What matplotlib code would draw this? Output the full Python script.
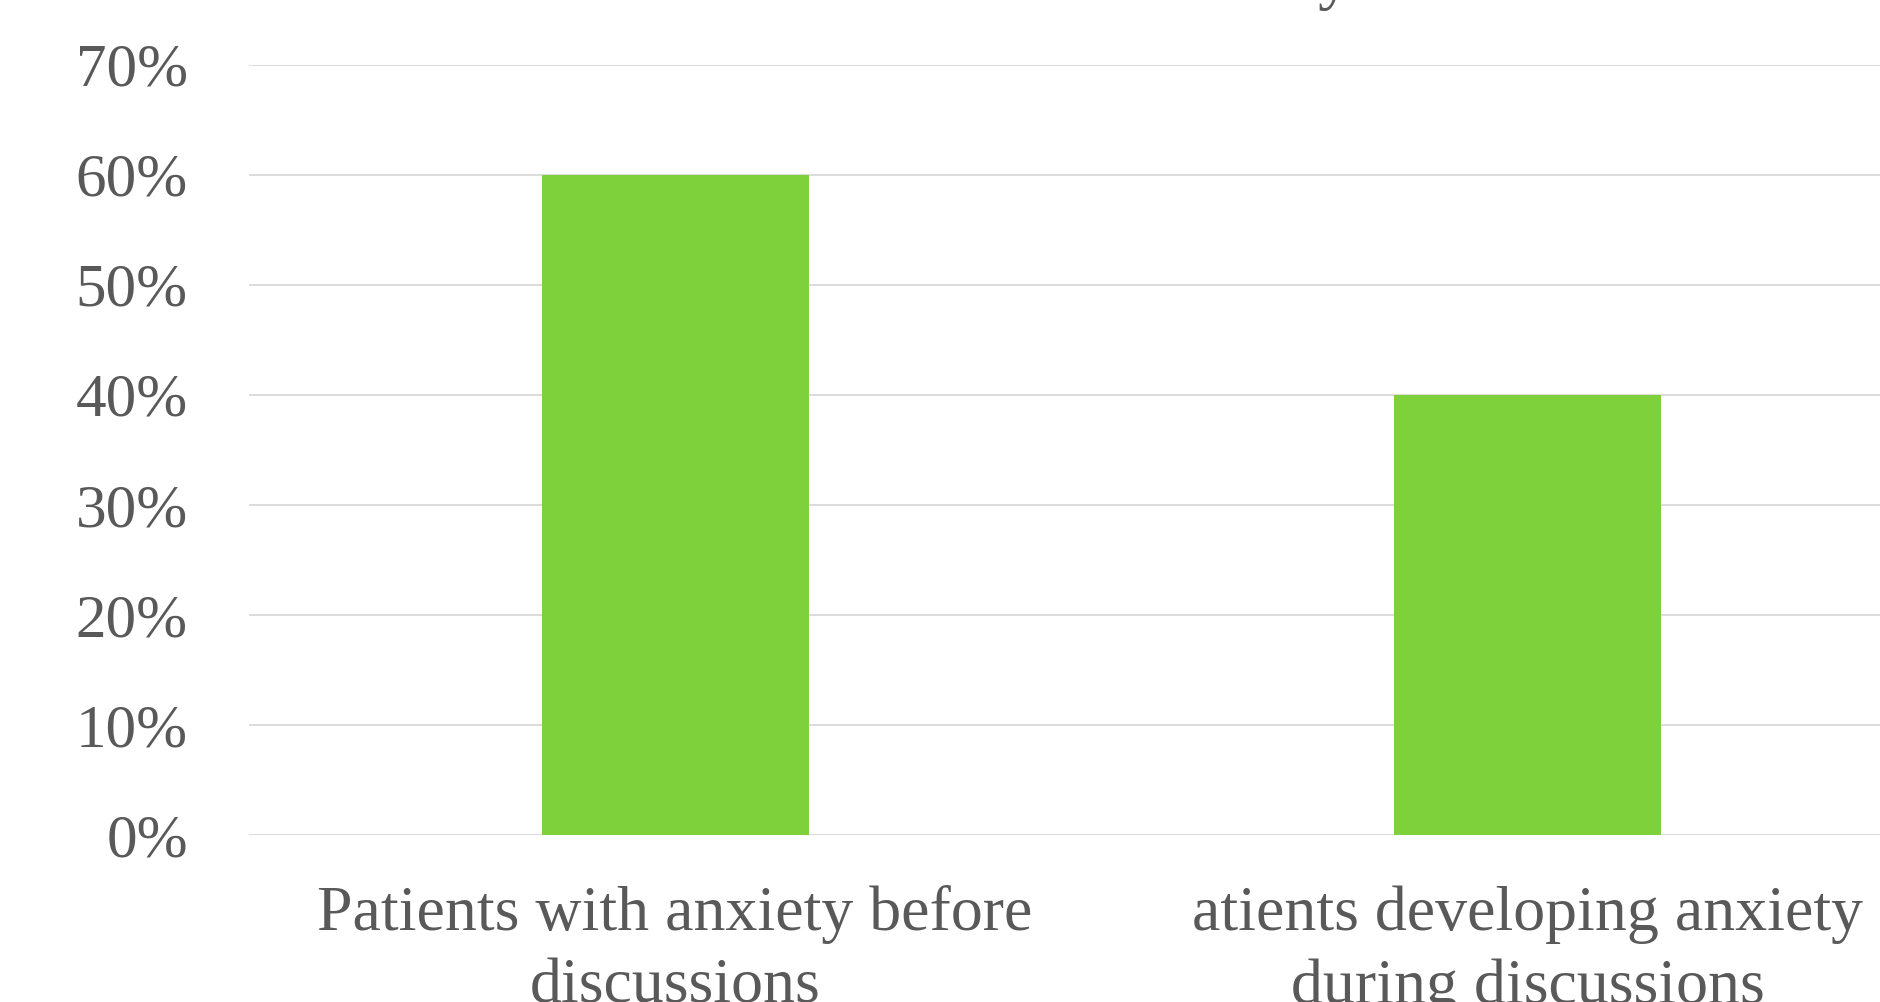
import matplotlib.pyplot as plt
from matplotlib.ticker import PercentFormatter

# Datos
categorias = ["Patients with anxiety before\ndiscussions",
              "atients developing anxiety\nduring discussions"]
valores = [0.60, 0.40]
yticks = [0, 0.1, 0.2, 0.3, 0.4, 0.5, 0.6, 0.7]
titulo = "Anxiety"

plt.rcParams['font.family'] = ['Liberation Serif', 'DejaVu Serif']
gris = '#595959'

fig = plt.figure(figsize=(18.8, 10.02), dpi=100)
ax = fig.add_axes([249 / 1880, 167 / 1002, 1704.7 / 1880, 770.5 / 1002])

x = range(len(categorias))
ax.bar(x, valores, width=0.313, color='#7FD13B', zorder=3)

ax.set_xlim(-0.5, 1.5)
ax.set_ylim(0, 0.7)
ax.set_yticks(yticks)
ax.yaxis.set_major_formatter(PercentFormatter(1.0, decimals=0))
ax.set_xticks(list(x))
ax.set_xticklabels(categorias, fontsize=46, color=gris, linespacing=1.34)
ax.tick_params(axis='y', labelsize=44, labelcolor=gris, length=0, pad=44)
ax.tick_params(axis='x', length=0, pad=36)

ax.grid(axis='y', color='#D9D9D9', linewidth=1.3, zorder=0)
ax.set_axisbelow(True)
for s in ax.spines.values():
    s.set_visible(False)

# título recortado: solo asoma la cola de la "y"
fig.text(1352 / 1880, 1 + 3 / 1002, titulo, ha='right', va='baseline',
         fontsize=48, color=gris)

fig.savefig('out.png', dpi=100)
